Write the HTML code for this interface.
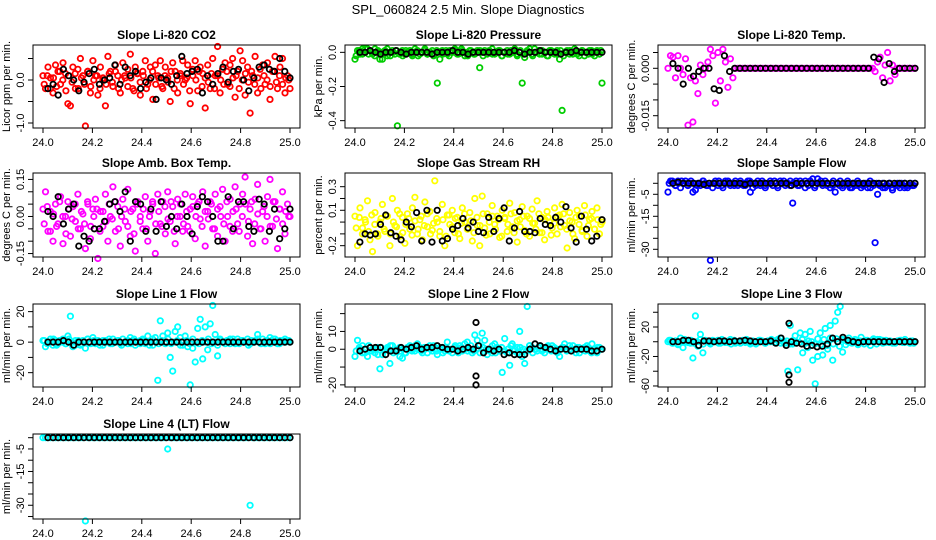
<!DOCTYPE html>
<html><head><meta charset="utf-8"><title>SPL_060824 Slope Diagnostics</title>
<style>
html,body{margin:0;padding:0;background:#fff;}
svg{display:block;font-family:"Liberation Sans",Arial,sans-serif;}
</style></head>
<body>
<svg id="chart" width="936" height="540" viewBox="0 0 936 540" xmlns="http://www.w3.org/2000/svg">
<text x="468" y="14" text-anchor="middle" font-size="13">SPL_060824  2.5 Min. Slope Diagnostics</text>
</svg>
<script>
// ---- data (time in hours; colored = 2.5 min samples, black = reference samples) ----
const co2Red=[0.1,-0.2,0.3,0.05,-0.3,0.35,0.2,-0.1,0.4,0.15,-0.55,-0.6,0.3,-0.2,0.25,0.5,0.1,-1.07,0.2,-0.3,0.45,0.1,-0.35,0.3,0.0,-0.6,0.55,0.2,-0.15,0.35,0.1,-0.3,0.4,0.05,0.25,0.6,-0.2,0.3,0.15,-0.35,0.2,0.45,-0.1,0.3,-0.45,0.35,0.1,0.45,-0.2,0.3,0.05,-0.5,0.4,0.2,-0.3,0.1,0.45,0.0,0.35,-0.55,0.25,0.45,-0.25,0.3,0.15,-0.65,0.35,-0.2,0.5,0.1,0.78,-0.3,0.25,0.4,-0.1,0.35,0.5,-0.4,0.2,0.68,0.45,-0.35,0.3,-0.77,0.1,0.55,-0.3,0.25,0.35,-0.1,0.4,-0.45,0.2,0.55,-0.2,0.3,0.5,-0.3,0.1,-0.2];
const co2Band=[-0.1,0.1,-0.2,0.05,-0.15,0.2,0.0,-0.25,0.1,-0.05,0.15,-0.2,0.05,-0.1,0.2,-0.15,0.0,0.1,-0.2,0.05,-0.1,0.15,-0.05,0.2,-0.2,0.0,0.1,-0.15,0.05,-0.25,0.15,-0.05,0.1,-0.2,0.0,0.2,-0.1,0.05,-0.15,0.1,-0.05,0.2,-0.2,0.0,0.15,-0.1,0.05,-0.25,0.1,0.0,0.2,-0.15,0.05,-0.05,0.15,-0.2,0.1,0.0,-0.1,0.2,-0.15,0.05,0.1,-0.2,0.0,0.15,-0.05,0.2,-0.1,0.05,-0.2,0.1,0.0,-0.15,0.2,-0.05,0.1,-0.1,0.05,0.0];
const co2Black=[-0.2,-0.1,-0.35,0.25,0.1,0.0,-0.25,-0.05,0.15,0.25,-0.1,0.0,0.05,0.35,-0.1,0.3,0.1,0.2,-0.2,-0.05,0.05,-0.45,0.05,0.0,-0.1,0.1,0.55,0.15,0.2,0.25,-0.3,0.1,-0.1,0.15,0.3,-0.05,0.2,0.25,0.0,-0.25,0.05,0.3,0.35,0.25,0.2,0.5,0.2,0.05];
const presGreen=[-0.04,0.01,-0.01,0.02,0.0,0.02,0.01,-0.01,0.02,0.0,-0.04,-0.04,0.01,-0.02,0.0,0.01,-0.01,-0.43,0.0,0.01,-0.01,0.0,0.01,-0.02,0.0,0.01,-0.01,0.0,0.02,-0.01,0.0,0.01,-0.01,-0.18,-0.04,0.01,0.0,-0.01,0.01,0.0,0.02,-0.01,0.0,0.01,-0.02,0.0,0.01,0.0,-0.01,0.01,-0.09,0.0,0.01,-0.01,0.0,0.02,-0.01,0.0,0.01,-0.02,0.0,0.01,-0.01,0.0,0.02,-0.01,0.0,-0.18,-0.03,0.01,0.0,-0.01,0.02,0.0,-0.01,0.01,0.0,-0.02,0.01,0.0,-0.01,0.01,-0.04,-0.34,0.0,0.01,-0.01,0.0,0.02,-0.01,0.0,0.01,-0.02,0.0,0.01,-0.01,0.0,0.01,-0.01,-0.18];
const presBand=[-0.02,0.01,-0.01,0.02,-0.01,0.0,-0.02,0.01,0.0,-0.01,0.02,-0.02,0.0,0.01,-0.01,-0.02,0.01,0.0,-0.01,0.02,-0.02,0.0,0.01,-0.01,0.0,-0.02,0.01,0.0,-0.01,0.01,-0.02,0.0,0.01,-0.01,0.02,0.0,-0.02,0.01,-0.01,0.0,0.01,-0.02,0.0,0.01,-0.01,0.0,0.01,-0.02,0.0,-0.01,0.01,0.0,-0.02,0.01,-0.01,0.0,0.02,-0.02,0.0,0.01,-0.01,0.0,-0.02,0.01,0.0,-0.01,0.01,-0.02,0.0,0.01,-0.01,0.0,-0.02,0.01,0.0,-0.01,0.01,-0.02,0.0,0.01];
const presBlack=[0.0,0.0,0.01,0.0,-0.01,0.0,0.0,0.01,0.0,-0.01,0.0,0.0,0.0,0.0,-0.01,0.0,0.0,0.0,0.01,0.0,0.0,-0.01,0.0,0.0,0.0,0.0,0.0,0.0,0.0,0.0,0.01,0.0,-0.01,0.0,0.0,0.01,0.0,0.0,0.0,-0.01,0.0,0.0,0.01,0.0,0.0,0.0,0.0,0.0];
const tempMag=[0.0,0.004,0.0035,-0.003,0.004,0.0,-0.002,0.003,-0.018,-0.003,-0.017,-0.004,-0.008,0.001,-0.002,0.0,0.002,0.006,0.004,-0.011,0.005,-0.004,0.006,0.002,-0.006,0.003,-0.003,0.0,0.0,0.0,0,0,0,0,0,0,0,0,0,0,0,0,0,0,0,0,0,0,0,0,0,0,0,0,0,0,0,0,0,0,0,0,0,0,0,0,0,0,0,0,0,0,0,0,0,0,0,0,0,0,0.0,0.0,0.0,-0.001,0.002,0.0035,-0.003,0.001,0.005,-0.004,0.001,-0.002,0.0,0.0,0.0,0.0,0.0,0.0,0.0,0.0];
const tempBlack=[0.0015,0,-0.005,0,-0.0025,-0.001,0,0,-0.0065,-0.007,0.004,-0.001,0,0,0,0,0,0,0,0,0,0,0,0,0,0,0,0,0,0,0,0,0,0,0,0,0,0,0,0.0035,0.003,-0.0045,0.0015,-0.001,0,0,0,0];
const boxMag=[0.03,0.1,-0.06,0.02,-0.1,0.05,-0.03,0.08,-0.11,0.0,0.06,-0.08,0.04,-0.02,0.09,-0.05,0.01,-0.13,0.05,-0.09,0.03,0.07,-0.17,0.02,-0.04,0.09,-0.1,0.0,0.12,-0.06,0.04,-0.12,0.07,-0.02,0.11,-0.08,0.03,-0.14,0.06,0.0,-0.05,0.08,-0.1,0.02,0.05,-0.15,0.09,-0.03,0.06,-0.07,0.1,-0.02,0.04,-0.11,0.07,0.0,-0.06,0.09,-0.04,0.03,0.08,-0.09,0.05,-0.01,0.1,-0.12,0.02,0.06,-0.05,0.09,-0.08,0.04,0.11,-0.1,0.0,0.07,-0.06,0.12,-0.03,0.05,0.09,0.16,-0.08,0.03,-0.11,0.07,0.13,-0.05,0.02,-0.1,0.08,0.15,-0.04,0.06,-0.13,0.03,0.1,-0.07,0.05,0.0];
const boxBand=[-0.03,0.04,-0.06,0.01,-0.04,0.06,0.0,-0.07,0.03,-0.01,0.05,-0.05,0.02,-0.03,0.06,-0.04,0.0,0.03,-0.06,0.02,-0.02,0.05,-0.01,0.06,-0.05,0.0,0.03,-0.04,0.02,-0.07,0.05,-0.02,0.03,-0.05,0.0,0.06,-0.03,0.02,-0.04,0.04,-0.01,0.06,-0.06,0.0,0.05,-0.03,0.02,-0.06,0.04,0.0,0.06,-0.04,0.02,-0.01,0.05,-0.05,0.03,0.0,-0.03,0.06,-0.04,0.02,0.03,-0.06,0.0,0.05,-0.02,0.06,-0.03,0.01,-0.05,0.04,0.0,-0.04,0.06,-0.01,0.03,-0.03,0.02,0.0];
const boxBlack=[0.02,0.0,0.08,-0.03,0.03,0.05,-0.12,-0.08,-0.1,-0.05,-0.05,-0.02,0.05,0.06,0.02,0.1,-0.1,0.06,0.05,-0.06,0.03,-0.06,0.06,-0.04,0.0,-0.05,0.05,0.0,-0.07,0.04,0.08,0.06,0.0,-0.1,-0.1,0.08,-0.05,0.06,0.06,-0.04,-0.06,0.07,0.05,-0.06,0.03,-0.09,-0.05,0.03];
const rhYellow=[0.05,-0.2,0.12,-0.05,0.02,0.18,-0.15,-0.25,0.08,-0.1,0.0,0.15,-0.08,0.05,-0.2,0.2,-0.03,0.1,-0.12,0.04,-0.18,0.07,-0.06,0.12,0.21,-0.1,0.02,-0.15,0.17,-0.04,0.09,-0.07,0.35,0.0,-0.12,0.15,-0.2,0.06,-0.02,0.1,-0.09,0.04,-0.14,0.12,0.0,-0.06,0.08,-0.16,0.2,-0.03,-0.2,0.22,-0.05,0.07,-0.1,0.14,-0.02,0.05,-0.13,0.1,0.03,-0.08,0.16,-0.04,0.08,-0.17,0.02,0.13,-0.07,0.05,-0.12,0.11,-0.01,0.18,-0.09,0.04,-0.15,0.09,0.0,-0.05,0.12,-0.1,0.06,0.15,-0.03,-0.22,0.08,0.0,-0.14,0.1,0.05,-0.07,0.14,-0.12,0.02,0.09,-0.06,0.12,-0.1,0.0];
const rhBand=[-0.05,0.04,-0.1,0.0,-0.08,0.06,-0.02,-0.12,0.03,-0.06,0.05,-0.1,0.0,-0.04,0.07,-0.09,-0.02,0.03,-0.11,0.01,-0.06,0.05,-0.03,0.07,-0.1,-0.01,0.03,-0.08,0.02,-0.12,0.06,-0.04,0.03,-0.1,-0.01,0.07,-0.06,0.01,-0.09,0.04,-0.03,0.07,-0.11,0.0,0.05,-0.06,0.02,-0.12,0.04,-0.02,0.07,-0.09,0.01,-0.04,0.05,-0.1,0.03,-0.01,-0.06,0.07,-0.09,0.02,0.04,-0.11,-0.01,0.05,-0.04,0.07,-0.06,0.01,-0.1,0.04,-0.02,-0.08,0.06,-0.03,0.03,-0.06,0.02,-0.02];
const rhBlack=[-0.17,-0.1,-0.11,-0.1,-0.02,0.06,-0.09,-0.12,-0.15,0.0,-0.04,0.08,-0.16,0.1,-0.17,0.1,-0.16,-0.14,-0.06,-0.03,0.03,-0.05,0.0,-0.08,-0.09,0.04,-0.08,0.03,0.12,-0.16,-0.05,0.09,-0.08,-0.08,-0.09,0.03,-0.02,-0.03,0.04,0.0,0.13,-0.05,-0.17,0.05,-0.06,-0.16,-0.12,0.02];
const flowBlue=[-4,1,0,-1,1,-2,0,1,-1,0,-4,-3,0,-1,1,0,-1,-35,0,1,-1,0,-2,1,0,-1,0,1,-1,0,0,-1,1,-4,-2,0,1,-1,0,-2,0,1,-1,0,-2,1,0,-1,0,1,-9,0,-1,1,0,-2,0,1,2,-1,2,0,-1,1,0,-2,-1,-4,0,1,-1,0,1,-2,0,-1,1,0,-1,0,-2,1,0,-27,-5,-1,0,-2,-1,0,-3,-1,0,-2,-1,0,-2,-1,-1,0];
const flowBand=[0,1,-1,0,1,0,-1,1,0,-1,0,1,-1,0,-2,0,1,-1,0,1,0,-1,0,1,-1,0,1,0,-1,0,1,-1,0,0,1,-1,0,1,0,-1,0,1,-1,0,1,-1,0,-2,0,1,0,-1,-2,1,0,-1,-2,0,-1,-2,0,-1,-2,-1,0,-2,-1,0,-1,-2,-1,0,-2,-1,-1,0,-2,-1,0,-1];
const flowBlack=[0,0.5,0,0,0,0,-0.5,0,0,0,0,0,0,0,-0.5,0,0,0,0,0,0,0,0,-1,0,0,0,0,0,0,0,0,0,0,0,0,0,0,0,0,0,0,0,0,0,0,0,0];
const line1Cyan=[1,-3,0,2,-2,1,-1,0,2,-1,4,17,-3,1,0,-2,1,-4,2,0,3,-1,1,0,-2,1,0,-1,2,0,1,-1,2,0,-1,3,1,-2,0,1,2,-1,4,0,-2,3,-25,14,4,-1,6,-10,-19,7,10,3,-2,4,-3,-28,-4,-13,9,15,-11,10,-5,12,24,5,-9,2,0,-1,1,2,0,-1,2,0,1,0,2,-1,0,1,5,0,2,-1,1,3,0,2,-1,1,0,2,1,0];
const line1Band=[1,-1,0,2,-2,1,0,-1,2,0,-2,1,-1,0,2,-1,1,0,-2,1,0,2,-1,0,1,-2,0,1,-1,2,0,-1,1,0,-2,2,0,-1,1,0,2,-1,0,1,-2,0,1,-1,2,0,-1,1,0,2,-1,0,-2,1,0,1,-1,2,0,-1,1,0,-2,1,0,2,-1,0,1,-1,2,0,-1,1,0,1];
const line1Black=[0,0,0,1,0,-2,0,0,0,0,0,0,0,0,0,0,0,0,0,0,0,0,0,0,0,0,0,0,0,0,0,0,0,0,0,0,0,0,0,0,0,0,0,0,0,0,0,0];
const line2Cyan=[-4,5,0,2,-2,-4,1,0,-2,1,-11,-3,0,1,-8,2,-1,0,-4,-5,-2,1,2,0,-1,3,1,-2,0,1,2,-1,0,-3,1,0,-1,4,0,-2,1,0,2,-1,3,4,0,-2,8,5,2,9,5,-3,0,-2,3,1,-1,-13,6,-2,-9,3,0,1,10,-4,-8,24,2,1,0,-1,2,0,-2,1,0,2,-1,0,-4,1,3,0,2,-1,0,1,-2,0,1,2,-1,3,0,-2,1,0];
const line2Band=[-1,1,-2,0,2,-1,0,-3,1,-1,0,2,-2,-1,1,0,-2,1,-1,2,0,-1,1,-2,0,2,-1,0,-2,1,-1,0,2,-2,1,0,-1,2,-1,0,-2,1,0,-1,2,-2,0,1,-1,0,2,-1,-2,1,0,-1,2,-2,0,1,-1,0,2,-1,1,-2,0,1,-1,0,2,-2,1,0,-1,1,-2,0,1,0];
const line2Black=[-1,0,1,1,1,-3,-1,-1,1,0,1,2,0,1,1,2,1,0,0,-1,0,1,0,2,-2,0,-1,0,-3,-2,-3,-3,-3,0,3,2,1,0,-1,0,0,-1,0,0,0,-1,-1,0];
const line2OutTimes=[24.49,24.49,24.49];
const line2OutVals=[15,-15,-20];
const line3Cyan=[0,2,-2,1,-4,5,-8,1,0,-2,-22,35,-6,10,-15,2,0,-3,1,0,2,-2,1,0,-1,3,1,-2,0,1,2,-1,0,-3,1,0,-1,2,0,-2,1,0,2,-1,3,5,0,-2,-40,22,-3,8,-38,12,-15,10,-8,14,-25,-57,-20,12,-18,18,-10,22,-25,28,40,48,-14,2,0,-1,2,0,-2,1,0,2,-1,0,2,1,3,0,2,-1,0,1,-2,0,1,2,-1,3,0,-2,1,0];
const line3Band=[2,-2,1,-3,0,3,-1,2,-2,0,3,-3,1,-1,2,0,-2,3,-1,1,-3,2,0,-2,1,3,-1,0,-3,2,1,-2,0,3,-1,2,-2,0,1,-3,2,0,-1,3,-2,1,0,-3,4,-4,3,-5,5,-3,4,-6,3,-4,5,-2,3,-4,6,-3,2,-5,4,-3,3,-2,2,-1,0,-2,1,2,-1,0,1,-2];
const line3Black=[0,0,2,2,0,-5,1,1,0,1,1,0,1,1,2,1,0,0,0,1,-2,5,-5,0,-2,-3,-6,-5,-7,-6,-3,5,0,6,2,0,-1,0,0,0,0,0,0,0,0,0,0,0];
const line3OutTimes=[24.49,24.49,24.49];
const line3OutVals=[25,-45,-55];
const line4Cyan=[0,0,0,0,0,0,0,0,0,0,0,0,0,0,0,0,0,-37,0,0,0,0,0,0,0,0,0,0,0,0,0,0,0,0,0,0,0,0,0,0,0,0,0,0,0,0,0,0,0,0,-5,0,0,0,0,0,0,0,0,0,0,0,0,0,0,0,0,0,0,0,0,0,0,0,0,0,0,0,0,0,0,0,0,-30,0,0,0,0,0,0,0,0,0,0,0,0,0,0,0,0];
const line4Black=[0,0,0,0,0,0,0,0,0,0,0,0,0,0,0,0,0,0,0,0,0,0,0,0,0,0,0,0,0,0,0,0,0,0,0,0,0,0,0,0,0,0,0,0,0,0,0,0];
const xTicks=[24.0,24.2,24.4,24.6,24.8,25.0];
const xTickLabels=["24.0","24.2","24.4","24.6","24.8","25.0"];

const NS="http://www.w3.org/2000/svg";
const svg=document.getElementById('chart');
const colX=[43,355,668];
const rowTop=[45,173,304,434], rowH=[83,84,83,85];
const PXH=247;

const panels=[
 {name:'co2',c:0,r:0,title:'Slope Li-820 CO2',ylab:'Licor ppm per min.',dom:[0.814,-1.116],ticks:[0.5,0,-0.5,-1],lab:{'0':'0.0','-1':'-1.0'},col:'#ff0000',main:co2Red,band:co2Band,blk:co2Black},
 {name:'pressure',c:1,r:0,title:'Slope Li-820 Pressure',ylab:'kPa per min.',dom:[0.043,-0.443],ticks:[0,-0.2,-0.4],lab:{'0':'0.0','-0.2':'-0.2','-0.4':'-0.4'},col:'#00cd00',main:presGreen,band:presBand,blk:presBlack},
 {name:'li820-temp',c:2,r:0,title:'Slope Li-820 Temp.',ylab:'degrees C per min.',dom:[0.00737,-0.01889],ticks:[0.005,0,-0.005,-0.01,-0.015],lab:{'0':'0.000','-0.015':'-0.015'},col:'#ff00ff',main:tempMag,blk:tempBlack},
 {name:'amb-box-temp',c:0,r:1,title:'Slope Amb. Box Temp.',ylab:'degrees C per min.',dom:[0.176,-0.164],ticks:[0.15,0.1,0.05,0,-0.05,-0.1,-0.15],lab:{'0.15':'0.15','0':'0.00','-0.15':'-0.15'},col:'#ff00ff',main:boxMag,band:boxBand,blk:boxBlack},
 {name:'gas-stream-rh',c:1,r:1,title:'Slope Gas Stream RH',ylab:'percent per min.',dom:[0.416,-0.296],ticks:[0.3,0.2,0.1,0,-0.1,-0.2],lab:{'0.3':'0.3','0.1':'0.1','-0.2':'-0.2'},col:'#ffff00',main:rhYellow,band:rhBand,blk:rhBlack},
 {name:'sample-flow',c:2,r:1,title:'Slope Sample Flow',ylab:'ml/min per min.',dom:[4.68,-33.5],ticks:[0,-5,-10,-15,-20,-25,-30],lab:{'-5':'-5','-15':'-15','-30':'-30'},col:'#0000ff',main:flowBlue,band:flowBand,blk:flowBlack},
 {name:'line1-flow',c:0,r:2,title:'Slope Line 1 Flow',ylab:'ml/min per min.',dom:[25.0,-29.4],ticks:[20,10,0,-10,-20],lab:{'20':'20','0':'0','-20':'-20'},col:'#00ffff',main:line1Cyan,band:line1Band,blk:line1Black},
 {name:'line2-flow',c:1,r:2,title:'Slope Line 2 Flow',ylab:'ml/min per min.',dom:[25.4,-21.2],ticks:[20,10,0,-10,-20],lab:{'10':'10','0':'0','-20':'-20'},col:'#00ffff',main:line2Cyan,band:line2Band,blk:line2Black,outT:line2OutTimes,outV:line2OutVals},
 {name:'line3-flow',c:2,r:2,title:'Slope Line 3 Flow',ylab:'ml/min per min.',dom:[51.2,-61.4],ticks:[40,20,0,-20,-40,-60],lab:{'20':'20','-20':'-20','-60':'-60'},col:'#00ffff',main:line3Cyan,band:line3Band,blk:line3Black,outT:line3OutTimes,outV:line3OutVals},
 {name:'line4-flow',c:0,r:3,title:'Slope Line 4 (LT) Flow',ylab:'ml/min per min.',dom:[1.64,-36.1],ticks:[0,-5,-10,-15,-20,-25,-30,-35],lab:{'-5':'-5','-15':'-15','-30':'-30'},col:'#00ffff',main:line4Cyan,blk:line4Black}
];

function mk(tag,attrs,parent){const e=document.createElementNS(NS,tag);for(const k in attrs)e.setAttribute(k,attrs[k]);(parent||svg).appendChild(e);return e;}

panels.forEach(p=>{
  const x0=colX[p.c], top=rowTop[p.r], h=rowH[p.r];
  const left=x0-10, W=267, bot=top+h;
  const xs=t=>x0+(t-24)*PXH;
  const ys=v=>top+(p.dom[0]-v)/(p.dom[0]-p.dom[1])*h;
  const g=mk('g',{});
  
  
  const cg=mk('g',{},g);
  
  
  if(p.band){
    const nb=p.band.length;
    p.band.forEach((v,i)=>{
      const c=mk('circle',{cx:xs(24.005+i*0.99/(nb-1)).toFixed(1),cy:ys(v).toFixed(1),r:2.7,fill:'none',stroke:p.col,'stroke-width':1.8},cg);
      
      
    });
  }
  const n=p.main.length;
  p.main.forEach((v,i)=>{
    const c=mk('circle',{cx:xs(24+i/(n-1)).toFixed(1),cy:ys(v).toFixed(1),r:2.7,fill:'none',stroke:p.col,'stroke-width':1.8},cg);
    
    
  });
  const bg=mk('g',{},g);
  
  
  const m=p.blk.length;
  p.blk.forEach((v,j)=>{
    const c=mk('circle',{cx:xs(24.02+j*0.98/(m-1)).toFixed(1),cy:ys(v).toFixed(1),r:2.7,fill:'none',stroke:'#000','stroke-width':1.8},bg);
    
    
  });
  if(p.outT){p.outT.forEach((t,k)=>{
    const c=mk('circle',{cx:xs(t).toFixed(1),cy:ys(p.outV[k]).toFixed(1),r:2.7,fill:'none',stroke:'#000','stroke-width':1.8},bg);
    
    
  });}
  const box=mk('rect',{x:left,y:top,width:W,height:h,fill:'none',stroke:'#000','stroke-width':1},g);
  
  
  const ttl=mk('text',{x:left+W/2,y:top-6,'text-anchor':'middle','font-size':12,'font-weight':'bold'},g);
  ttl.textContent=p.title;
  
  
  xTicks.forEach((t,i)=>{
    const X=xs(t);
    mk('line',{x1:X,x2:X,y1:bot,y2:bot+5,stroke:'#000'},g);
    const tl=mk('text',{x:X,y:bot+18,'text-anchor':'middle','font-size':11},g);
    tl.textContent=xTickLabels[i];
    
    
  });
  p.ticks.forEach(v=>{
    const Y=ys(v);
    mk('line',{x1:left-5,x2:left,y1:Y,y2:Y,stroke:'#000'},g);
    const key=String(v);
    if(p.lab[key]!==undefined){
      const tl=mk('text',{x:left-9,y:Y,'text-anchor':'middle','font-size':11,transform:`rotate(-90 ${left-9} ${Y})`},g);
      tl.textContent=p.lab[key];
      
      
    }
  });
  const yl=mk('text',{x:left-23,y:top+h/2,'text-anchor':'middle','font-size':11,transform:`rotate(-90 ${left-23} ${top+h/2})`},g);
  yl.textContent=p.ylab;
  
  
});
</script>
</body></html>
